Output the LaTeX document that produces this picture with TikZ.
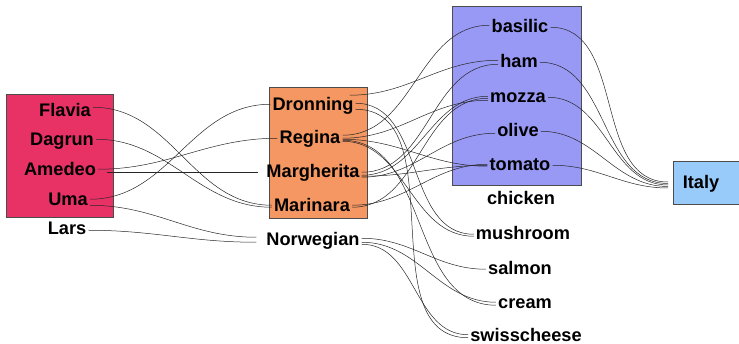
\documentclass[tikz,border=0pt]{standalone}
\usepackage{fontspec}
\setmainfont{Liberation Sans}
\definecolor{cred}{RGB}{232,50,102}
\definecolor{corange}{RGB}{244,151,98}
\definecolor{cblue}{RGB}{152,152,245}
\definecolor{clight}{RGB}{152,202,250}
\begin{document}
\begin{tikzpicture}[x=1pt,y=-1pt,
  lbl/.style={font=\bfseries\fontsize{18.2}{20}\selectfont, inner sep=2pt, text height=12.5pt, text depth=1pt, anchor=base},
  box/.style={draw=black!70, line width=0.5pt},
  conn/.style={draw=black!85, line width=0.5pt, out=0, in=180}]
\useasboundingbox (0,0) rectangle (739,344);
% clusters
\path[box, fill=cred] (6,94) rectangle (113,217);
\path[box, fill=corange] (269,87) rectangle (367,218);
\path[box, fill=cblue] (452,6) rectangle (581,185);
\node[box, fill=clight, minimum width=66pt, minimum height=43pt, inner sep=0pt] (italybox) at (706,183) {};
\coordinate (italyin) at (668,185);
% persons
\node[lbl] (flavia) at (65,117) {Flavia};
\node[lbl] (dagrun) at (62,146) {Dagrun};
\node[lbl] (amedeo) at (60,176) {Amedeo};
\node[lbl] (uma) at (68,206) {Uma};
\node[lbl] (lars) at (67,235) {Lars};
% pizzas
\node[lbl] (dronning) at (313,111) {Dronning};
\node[lbl] (regina) at (310,144) {Regina};
\node[lbl] (margherita) at (313,178) {Margherita};
\node[lbl] (marinara) at (312,212) {Marinara};
\node[lbl] (norwegian) at (313,246) {Norwegian};
% ingredients
\node[lbl] (basilic) at (520,33) {basilic};
\node[lbl] (ham) at (519,68) {ham};
\node[lbl] (mozza) at (518,103) {mozza};
\node[lbl] (olive) at (518,137) {olive};
\node[lbl] (tomato) at (520,171) {tomato};
\node[lbl] (chicken) at (521,205) {chicken};
\node[lbl] (mushroom) at (523,240) {mushroom};
\node[lbl] (salmon) at (520,275) {salmon};
\node[lbl] (cream) at (525,309) {cream};
\node[lbl] (swisscheese) at (526,341.5) {swisscheese};
\node[lbl] (italy) at (701,189) {Italy};
% persons -> pizzas
\draw[conn] ([yshift=4pt]flavia.east) to ([yshift=1pt]marinara.west);
\draw[conn] ([yshift=1pt]dagrun.east) to ([yshift=-1pt]marinara.west);
\draw[conn] ([yshift=1pt]amedeo.east) to (regina.west);
\draw[conn] ([xshift=9pt,yshift=-2pt]amedeo.east) to ([xshift=-6pt]margherita.west);
\draw[conn] ([yshift=1pt]uma.east) to ([yshift=1pt]dronning.west);
\draw[conn] ([yshift=-5pt]uma.east) to ([xshift=-8pt,yshift=3pt]norwegian.west);
\draw[conn] ([yshift=-1pt]lars.east) to ([xshift=-8pt,yshift=-2pt]norwegian.west);
% pizzas -> ingredients
\draw[conn] ([xshift=-6pt,yshift=10pt]dronning.east) to ([yshift=2pt]ham.west);
\draw[conn] ([yshift=2pt]dronning.east) to (mushroom.west);
\draw[conn] ([yshift=-4pt]dronning.east) to ([yshift=-2pt]swisscheese.west);
\draw[conn] ([yshift=3pt]regina.east) to ([yshift=2pt]basilic.west);
\draw[conn] ([yshift=-1pt]regina.east) to ([yshift=-1pt]tomato.west);
\draw[conn] ([yshift=-2pt]regina.east) to ([yshift=-2pt]cream.west);
\draw[conn] ([yshift=-3pt]regina.east) to ([yshift=-2pt]mushroom.west);
\draw[conn] ([yshift=0pt]margherita.east) to ([yshift=-2pt]ham.west);
\draw[conn] ([yshift=-3pt]margherita.east) to ([yshift=1pt]mozza.west);
\draw[conn] ([yshift=-4pt]margherita.east) to (tomato.west);
\draw[conn] ([yshift=-5pt]margherita.east) to ([yshift=-2pt]olive.west);
\draw[conn] ([yshift=1pt]marinara.east) to ([yshift=1pt]tomato.west);
\draw[conn] ([yshift=-1pt]marinara.east) to ([yshift=-1pt]mozza.west);
\draw[conn] ([yshift=0pt]regina.east) to ([yshift=-3pt]mozza.west);
% norwegian
\draw[conn] ([yshift=2pt]norwegian.east) to (salmon.west);
\draw[conn] ([yshift=-2pt]norwegian.east) to ([yshift=1pt]cream.west);
\draw[conn] ([yshift=-4pt]norwegian.east) to ([yshift=1pt]swisscheese.west);
% ingredients -> Italy
\draw[conn] (basilic.east) to ([yshift=3pt]italyin);
\draw[conn] (ham.east) to ([yshift=1.5pt]italyin);
\draw[conn] (mozza.east) to (italyin);
\draw[conn] (olive.east) to ([yshift=-1.5pt]italyin);
\draw[conn] (tomato.east) to ([yshift=-3pt]italyin);
\end{tikzpicture}
\end{document}
